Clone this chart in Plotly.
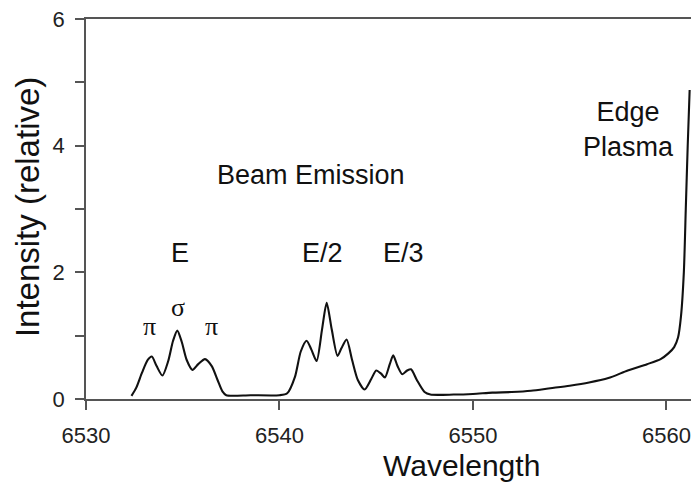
import plotly.graph_objects as go

# Spectrum: wavelength (Angstrom) vs relative intensity
wavelength = [
    6532.35, 6532.6, 6532.9, 6533.2, 6533.4, 6533.65, 6533.95, 6534.25, 6534.5,
    6534.72, 6534.95, 6535.2, 6535.5, 6535.8, 6536.15, 6536.5, 6536.8, 6537.05,
    6537.25, 6538.5, 6540.0, 6540.4, 6540.8, 6541.1, 6541.4, 6541.65, 6541.92,
    6542.2, 6542.44, 6542.7, 6543.0, 6543.2, 6543.47, 6543.75, 6544.05, 6544.4,
    6544.75, 6545.0, 6545.25, 6545.45, 6545.7, 6545.88, 6546.1, 6546.35, 6546.6,
    6546.8, 6547.1, 6547.5, 6547.8, 6549.0, 6550.0, 6551.0, 6552.0, 6553.0,
    6554.0, 6555.0, 6556.0, 6557.0, 6558.0, 6559.0, 6559.7, 6560.1, 6560.4,
    6560.6, 6560.75, 6560.9, 6561.0, 6561.1, 6561.2,
]
intensity = [
    0.05, 0.18, 0.42, 0.62, 0.67, 0.52, 0.37, 0.6, 0.92,
    1.08, 0.9, 0.62, 0.46, 0.55, 0.63, 0.52, 0.3, 0.12,
    0.06, 0.06, 0.06, 0.09, 0.35, 0.75, 0.92, 0.78, 0.6,
    1.1, 1.52, 1.1, 0.68, 0.8, 0.94, 0.62, 0.3, 0.15,
    0.32, 0.45, 0.4, 0.34, 0.55, 0.69, 0.52, 0.39, 0.45,
    0.47, 0.3, 0.11, 0.07, 0.07, 0.08, 0.1, 0.11, 0.13,
    0.17, 0.21, 0.26, 0.33, 0.45, 0.55, 0.63, 0.72, 0.82,
    0.97, 1.3, 2.0, 3.0, 4.0, 4.88,
]

x_ticks = [6530, 6540, 6550, 6560]
y_ticks = [0, 2, 4, 6]

FONT = "Liberation Sans, Arial, Helvetica, sans-serif"
SERIF = "Liberation Serif, Times New Roman, serif"
AXIS_COLOR = "#555555"

# Text labels placed in data coordinates: (text, x, y, size, family)
labels = [
    ("Beam Emission", 6541.63, 3.54, 27, FONT),
    ("E", 6534.86, 2.31, 27, FONT),
    ("E/2", 6542.2, 2.31, 27, FONT),
    ("E/3", 6546.43, 2.31, 27, FONT),
    ("\u03c0", 6533.3, 1.15, 26, SERIF),
    ("\u03c3", 6534.75, 1.45, 26, SERIF),
    ("\u03c0", 6536.5, 1.15, 26, SERIF),
    ("Edge<br>Plasma", 6558.06, 4.25, 27, FONT),
]

fig = go.Figure()
fig.add_trace(go.Scatter(
    x=wavelength, y=intensity, mode="lines",
    line=dict(color="#111111", width=2.1, shape="spline", smoothing=0.7),
    showlegend=False, hoverinfo="skip",
))

for text, lx, ly, size, family in labels:
    fig.add_annotation(
        x=lx, y=ly, xref="x", yref="y", text=text, showarrow=False,
        font=dict(family=family, size=size, color="#111111"),
        xanchor="center", yanchor="middle",
    )

# Axis titles
fig.add_annotation(
    x=0.62, y=-0.176, xref="paper", yref="paper", text="Wavelength",
    showarrow=False, font=dict(family=FONT, size=30, color="#111111"),
    xanchor="center", yanchor="middle",
)
fig.add_annotation(
    x=-0.0975, y=0.505, xref="paper", yref="paper", text="Intensity (relative)",
    showarrow=False, textangle=-90,
    font=dict(family=FONT, size=33, color="#111111"),
    xanchor="center", yanchor="middle",
)

fig.update_xaxes(
    range=[6530, 6561.27], tickvals=x_ticks, ticktext=[str(t) for t in x_ticks],
    showline=True, linecolor=AXIS_COLOR, linewidth=1.5, mirror=True,
    ticks="outside", ticklen=9, tickwidth=1.5, tickcolor=AXIS_COLOR,
    tickfont=dict(family=FONT, size=22, color="#222222"), ticklabelstandoff=7,
    showgrid=False, zeroline=False,
)
fig.update_yaxes(
    range=[0, 6], tickvals=y_ticks, ticktext=[str(t) for t in y_ticks],
    showline=True, linecolor=AXIS_COLOR, linewidth=1.5,
    ticks="outside", ticklen=9, tickwidth=1.5, tickcolor=AXIS_COLOR,
    tickfont=dict(family=FONT, size=22, color="#222222"), ticklabelstandoff=6,
    minor=dict(tickvals=[1, 3, 5], ticks="outside", ticklen=9, tickwidth=1.5,
               tickcolor=AXIS_COLOR),
    showgrid=False, zeroline=False,
)

fig.update_layout(
    width=691, height=483,
    margin=dict(l=86, r=0, t=19, b=84),
    paper_bgcolor="white", plot_bgcolor="white",
)

fig.write_html("out.html")
